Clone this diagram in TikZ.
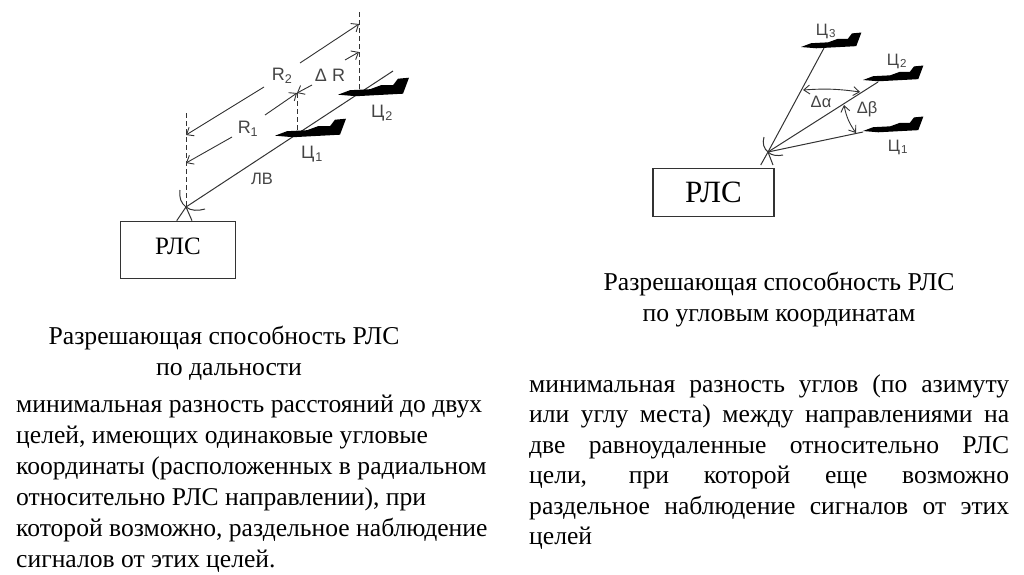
\documentclass[tikz,border=0pt]{standalone}
\usepackage{fontspec}
\setmainfont{Liberation Serif}
\setsansfont{Liberation Sans}
\usepackage{tikz}
\usetikzlibrary{arrows.meta, positioning}
\definecolor{Ink}{HTML}{333333}
\definecolor{Lbl}{HTML}{444444}
\newcommand{\fullline}[1]{\makebox[480pt][s]{#1}}
\newcommand{\tgt}[1]{Ц\kern1pt\textsubscript{#1}}

\begin{document}
\begin{tikzpicture}[
  x=1pt, y=-1pt,
  radar/.style={draw=Ink, line width=1.1pt, fill=white, inner sep=0pt, font=\fontsize{25}{27}\selectfont},
  ray/.style={draw=Ink, line width=1pt},
  guide/.style={draw=Ink, line width=1pt, dashed, dash pattern=on 5pt off 3pt},
  dim/.style={draw=Ink, line width=.9pt},
  tip/.style={-{Straight Barb[length=6pt,width=10pt]}},
  lbl/.style={font=\sffamily\fontsize{18}{20}\selectfont, text=Lbl, inner sep=0pt},
  small/.style={font=\sffamily\fontsize{16.5}{18}\selectfont, text=Lbl, inner sep=0pt},
  heading/.style={font=\fontsize{25.7}{31}\selectfont, align=center, inner sep=0pt},
  para/.style={font=\fontsize{25.6}{30.9}\selectfont, inner sep=0pt, anchor=north west},
  plane/.pic={\fill[black] (0,0) -- (12,-4.5) -- (32,-5.5) -- (43,-9.5) -- (55,-9.5) -- (60,-16)
     -- (71,-17) -- (65,-1) -- (18,1.5) -- cycle;},
]
\useasboundingbox (0,0) rectangle (1024,574);

% left picture
\node[radar, minimum width=115pt, minimum height=57pt] (rlsA) at (178,250) {\raisebox{7pt}{РЛС}};
\coordinate (antA) at (186,207);
\coordinate (lvA) at (393,71);
\draw[ray] (antA) -- (lvA);
\draw[ray] (176.7,220.7) -- (antA) -- (192,220.7);
\draw[ray] (180,190) .. controls (179,198) and (181,203) .. (antA);
\draw[ray] (antA) .. controls (191,211) and (198,211) .. (205,209);
\coordinate (topA) at (359,12);
\coordinate (midA) at (297,93);
\draw[guide] (186,113) -- (antA);
\draw[guide] (topA) -- (359,90);
\draw[guide] (midA) -- (297,130);
\pic at (275,135.7) {plane};
\pic at (338,94.7) {plane};
\node[lbl] (rTwo) at (282,76) {R\textsubscript{2}};
\node[lbl] (rOne) at (248,129) {R\textsubscript{1}};
\node[lbl] (dR) at (330,75) {Δ R};
\node[lbl] (tOne) at (312,154) {\tgt{1}};
\node[lbl] (tTwo) at (382,113) {\tgt{2}};
\node[small] (lv) at (262,179) {ЛВ};
\draw[dim, tip] (264,87) -- (186,135);
\draw[dim, tip] (300,63) -- (359,24);
\draw[dim, tip] (232,137) -- (186,163);
\draw[dim, tip] (265,115) -- (midA);
\draw[dim, tip] (312,85) -- (midA);
\draw[dim, tip] (345,60) -- (359,52);

% right picture
\node[radar, font=\fontsize{31}{33}\selectfont, minimum width=121pt, minimum height=48pt] (rlsB) at (713.5,192.5) {\raisebox{-4pt}{РЛС}};
\coordinate (antB) at (768,152);
\coordinate (endOne) at (863,132);
\coordinate (endTwo) at (878,82);
\coordinate (endThree) at (824,48);
\draw[ray] (antB) -- (endOne);
\draw[ray] (antB) -- (endTwo);
\draw[ray] (antB) -- (endThree);
\draw[ray] (760.7,165) -- (antB) -- (773,165);
\draw[ray] (764,137) .. controls (762,143) and (764,149) .. (antB);
\draw[ray] (antB) .. controls (772,156) and (778,156) .. (783,155);
\pic[scale=.85] at (801,47) {plane};
\pic[scale=.85] at (863,80) {plane};
\pic[scale=.85] at (863,131) {plane};
\node[small] (cThree) at (826,31) {\tgt{3}};
\node[small] (cTwo) at (897,61) {\tgt{2}};
\node[small] (cOne) at (898,147) {\tgt{1}};
\node[small] (dAlpha) at (821,102) {Δα};
\node[small] (dBeta) at (867,109) {Δβ};
\coordinate (aL) at (803,90);
\coordinate (aR) at (860,92);
\coordinate (bT) at (844,105);
\coordinate (bB) at (856,133);
\draw[dim, {Straight Barb[length=6pt,width=9pt]}-{Straight Barb[length=6pt,width=9pt]}] (aL) to[bend left=6] (aR);
\draw[dim, {Straight Barb[length=6pt,width=9pt]}-{Straight Barb[length=6pt,width=9pt]}] (bT) to[bend right=12] (bB);

% text
\node[heading] (capA) at (224,353.5) {Разрешающая способность РЛС\\\hspace*{10pt}по дальности};
\node[heading] (capB) at (779,299.5) {Разрешающая способность РЛС\\по угловым координатам};
\node[para, align=left] (textA) at (16,395) {минимальная разность расстояний до двух\\
целей, имеющих одинаковые угловые\\
координаты (расположенных в радиальном\\
относительно РЛС направлении), при\\
которой возможно, раздельное наблюдение\\
сигналов от этих целей.};
\node[para, font=\fontsize{25.6}{30.4}\selectfont, align=left] (textB) at (529,374.5) {\fullline{минимальная разность углов (по азимуту}\\
\fullline{или углу места) между направлениями на}\\
\fullline{две равноудаленные относительно РЛС}\\
\fullline{цели, при которой еще возможно}\\
\fullline{раздельное наблюдение сигналов от этих}\\
целей};
\end{tikzpicture}
\end{document}
